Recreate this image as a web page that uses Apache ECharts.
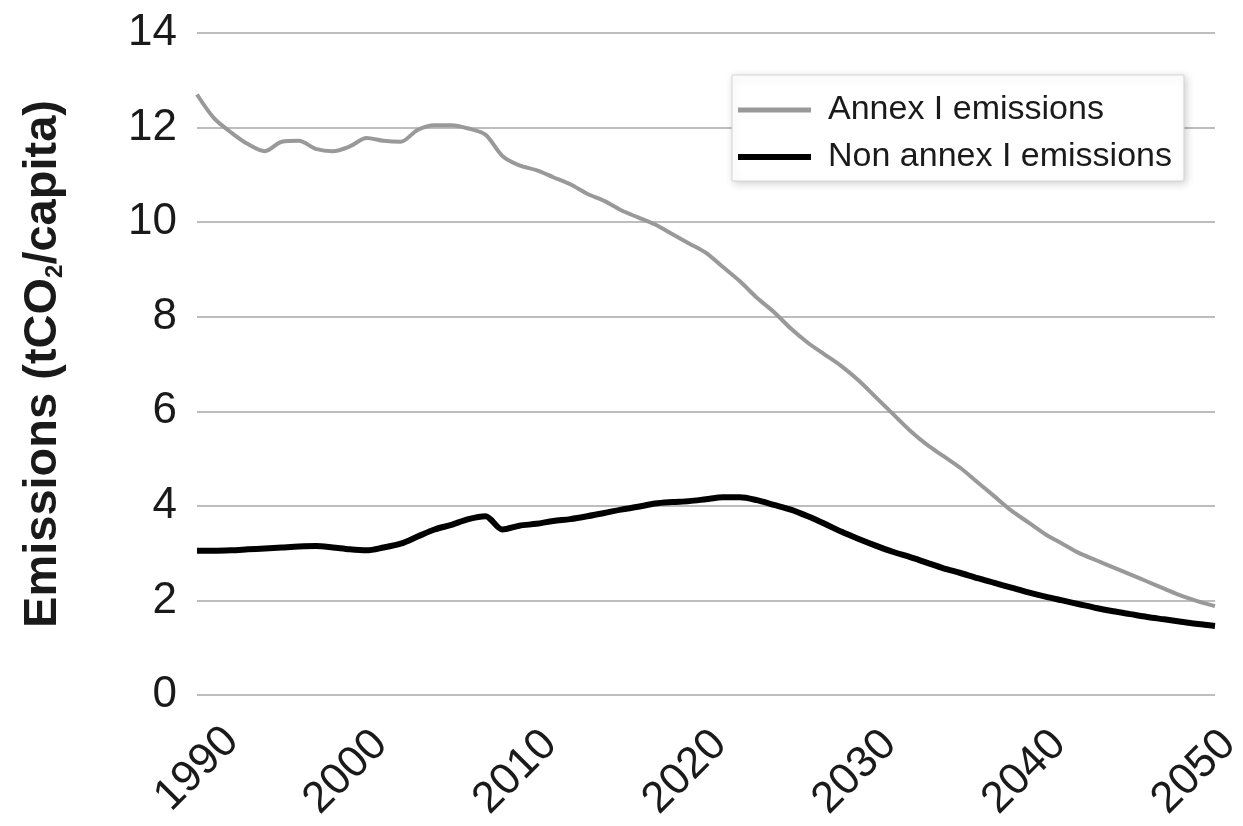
<!DOCTYPE html>
<html>
<head>
<meta charset="utf-8">
<script src="https://cdn.jsdelivr.net/npm/echarts@6/dist/echarts.min.js"></script>
<style>
  html, body { margin: 0; padding: 0; background: #fff; }
  #chart { width: 1243px; height: 826px; }
</style>
</head>
<body>
<div id="chart"></div>
<script>
// Per-capita CO2 emissions, 1990–2050 (tCO2 per person)
const years = [
  1990, 1991, 1992, 1993, 1994, 1995, 1996, 1997, 1998, 1999,
  2000, 2001, 2002, 2003, 2004, 2005, 2006, 2007, 2008, 2009,
  2010, 2011, 2012, 2013, 2014, 2015, 2016, 2017, 2018, 2019,
  2020, 2021, 2022, 2023, 2024, 2025, 2026, 2027, 2028, 2029,
  2030, 2031, 2032, 2033, 2034, 2035, 2036, 2037, 2038, 2039,
  2040, 2041, 2042, 2043, 2044, 2045, 2046, 2047, 2048, 2049,
  2050
];

const annexI = [
  12.70, 12.20, 11.90, 11.65, 11.50, 11.70, 11.72, 11.55, 11.50, 11.60,
  11.78, 11.72, 11.70, 11.95, 12.05, 12.05, 11.98, 11.85, 11.40, 11.20,
  11.10, 10.95, 10.80, 10.60, 10.45, 10.25, 10.10, 9.95, 9.75, 9.55,
  9.35, 9.05, 8.75, 8.40, 8.10, 7.75, 7.45, 7.20, 6.95, 6.65,
  6.30, 5.95, 5.60, 5.30, 5.05, 4.80, 4.50, 4.20, 3.90, 3.65,
  3.40, 3.20, 3.00, 2.85, 2.70, 2.55, 2.40, 2.25, 2.10, 1.98,
  1.88
];

const nonAnnexI = [
  3.05, 3.05, 3.06, 3.08, 3.10, 3.12, 3.14, 3.15, 3.12, 3.08,
  3.06, 3.12, 3.20, 3.35, 3.50, 3.60, 3.72, 3.78, 3.50, 3.58,
  3.62, 3.68, 3.72, 3.78, 3.85, 3.92, 3.98, 4.05, 4.08, 4.10,
  4.14, 4.18, 4.18, 4.12, 4.02, 3.92, 3.78, 3.62, 3.45, 3.30,
  3.16, 3.03, 2.92, 2.80, 2.68, 2.58, 2.47, 2.37, 2.27, 2.17,
  2.08, 2.00, 1.92, 1.84, 1.77, 1.71, 1.65, 1.60, 1.55, 1.50,
  1.46
];

const seriesNames = ['Annex I emissions', 'Non annex I emissions'];
const yTicks = { min: 0, max: 14, step: 2 };
const xTicks = { min: 1990, max: 2050, step: 10 };

const pairs = vals => years.map((y, i) => [y, vals[i]]);

const FONT = '"Liberation Sans", Arial, Helvetica, sans-serif';
const GREY = '#999999';
const BLACK = '#000000';
const INK = '#1a1a1a';

// Year labels sit slightly left of their ticks, except the first one.
const yearLabel = { fontFamily: FONT, fontSize: 44, color: INK };

const chart = echarts.init(document.getElementById('chart'), null, { renderer: 'canvas' });

chart.setOption({
  backgroundColor: '#ffffff',
  animation: false,
  textStyle: { fontFamily: FONT },
  grid: { left: 197, right: 28, top: 33, bottom: 131, containLabel: false, outerBoundsMode: 'none' },
  legend: {
    orient: 'vertical',
    left: 732,
    top: 75,
    padding: [18, 12, 7, 3],
    itemWidth: 73,
    itemHeight: 20,
    itemGap: 13,
    backgroundColor: '#ffffff',
    borderColor: '#d4d4d4',
    borderWidth: 1,
    shadowBlur: 8,
    shadowColor: 'rgba(0,0,0,0.18)',
    shadowOffsetX: 2,
    shadowOffsetY: 2,
    textStyle: { fontFamily: FONT, fontSize: 34, color: INK, padding: [0, 0, 0, 12] },
    data: [
      { name: seriesNames[0], itemStyle: { opacity: 0 }, lineStyle: { color: GREY, width: 5 } },
      { name: seriesNames[1], itemStyle: { opacity: 0 }, lineStyle: { color: BLACK, width: 6 } }
    ]
  },
  xAxis: {
    type: 'value',
    min: xTicks.min,
    max: xTicks.max,
    interval: xTicks.step,
    axisLine: { show: false },
    axisTick: { show: false },
    splitLine: { show: false },
    axisLabel: {
      rotate: 45,
      align: 'center',
      verticalAlign: 'middle',
      margin: 74,
      fontFamily: FONT,
      fontSize: 44,
      color: INK,
      formatter: v => (v === xTicks.min ? '{first|' + v + '}' : '{rest|' + v + '}'),
      rich: {
        first: Object.assign({}, yearLabel),
        rest: Object.assign({ padding: [0, 34, 25, 0] }, yearLabel)
      }
    }
  },
  yAxis: {
    type: 'value',
    min: yTicks.min,
    max: yTicks.max,
    interval: yTicks.step,
    axisLine: { show: false },
    axisTick: { show: false },
    splitLine: { lineStyle: { color: '#bdbdbd', width: 2 } },
    axisLabel: { margin: 20, fontFamily: FONT, fontSize: 44, color: INK },
    name: 'Emissions (tCO{sub|2}/capita)',
    nameLocation: 'middle',
    nameRotate: 90,
    nameGap: 130,
    nameTextStyle: {
      fontFamily: FONT,
      fontSize: 47,
      fontWeight: 'bold',
      color: INK,
      rich: {
        sub: { fontFamily: FONT, fontSize: 24, fontWeight: 'bold', color: INK, verticalAlign: 'bottom', padding: [16, 0, 0, 0] }
      }
    }
  },
  series: [
    {
      name: seriesNames[0],
      type: 'line',
      data: pairs(annexI),
      symbol: 'none',
      smooth: 0.3,
      lineStyle: { color: GREY, width: 4 },
      itemStyle: { color: GREY }
    },
    {
      name: seriesNames[1],
      type: 'line',
      data: pairs(nonAnnexI),
      symbol: 'none',
      smooth: 0.3,
      lineStyle: { color: BLACK, width: 6 },
      itemStyle: { color: BLACK }
    }
  ]
});
</script>
</body>
</html>
